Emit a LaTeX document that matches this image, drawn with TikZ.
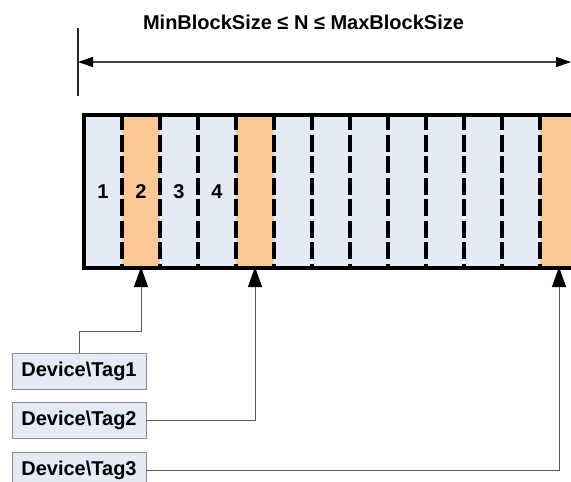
\documentclass[tikz,border=0pt]{standalone}
\usepackage{fontspec}
\setmainfont{Liberation Sans}
\usetikzlibrary{arrows.meta}
\definecolor{cellblue}{HTML}{E4EAF6}
\definecolor{cellorange}{HTML}{FCC994}
\definecolor{tagfill}{HTML}{E4EAF6}
\definecolor{linegray}{HTML}{5A5A5A}
\begin{document}
\begin{tikzpicture}[x=1pt,y=-1pt,
  lbl/.style={font=\fontsize{20}{23}\selectfont\bfseries},
  cell/.style={minimum width=38pt, minimum height=153pt, inner sep=0pt, outer sep=0pt, lbl},
  tag/.style={draw=black!45, fill=tagfill, line width=0.8pt, minimum width=134pt, minimum height=36pt, inner sep=0pt, lbl},
  conn/.style={draw=linegray, line width=1pt},
  uparrow/.style={conn, shorten >=-1pt, -{Triangle[length=20pt,width=14pt,color=black]}},
  celldash/.style={draw=black, line width=3.1pt, dash pattern=on 17pt off 4.5pt},
]
\useasboundingbox (0,0) rectangle (571,482);
\clip (0,0) rectangle (571,482);
\node[lbl] (title) at (303.5,22) {MinBlockSize ≤ N ≤ MaxBlockSize};
\coordinate (vt) at (78,28);
\coordinate (vb) at (78,96);
\draw[line width=1.1pt, black!85] (vt) -- (vb);
\coordinate (dl) at (78,62);
\coordinate (dr) at (571,62);
\draw[line width=1.1pt, black!75, {Triangle[length=15pt,width=10pt,color=black]}-{Triangle[length=15pt,width=10pt,color=black]}] (dl) -- (dr);
\foreach \i/\c/\t in {1/cellblue/1, 2/cellorange/2, 3/cellblue/3, 4/cellblue/4, 5/cellorange/, 6/cellblue/, 7/cellblue/, 8/cellblue/, 9/cellblue/, 10/cellblue/, 11/cellblue/, 12/cellblue/, 13/cellorange/, 14/cellblue/}
  \node[cell, fill=\c] (c\i) at ({103+38*(\i-1)},191.5) {\t};
\foreach \i in {2,...,14}
  \draw[celldash] ([yshift=2pt]c\i.north west) -- ([yshift=-2pt]c\i.south west);
\draw[line width=4.5pt] (c1.north west) rectangle (c14.south east);
\node[tag] (t1) at (79,371) {Device\textbackslash Tag1};
\node[tag] (t2) at (79,420) {Device\textbackslash Tag2};
\node[tag] (t3) at (79,470) {Device\textbackslash Tag3};
\coordinate (k1) at (141,331);
\draw[uparrow] (t1.north) |- (k1) -- (c2.south);
\draw[uparrow] (t2.east) -| (c5.south);
\draw[uparrow] (t3.east) -| (c13.south);
\end{tikzpicture}
\end{document}
